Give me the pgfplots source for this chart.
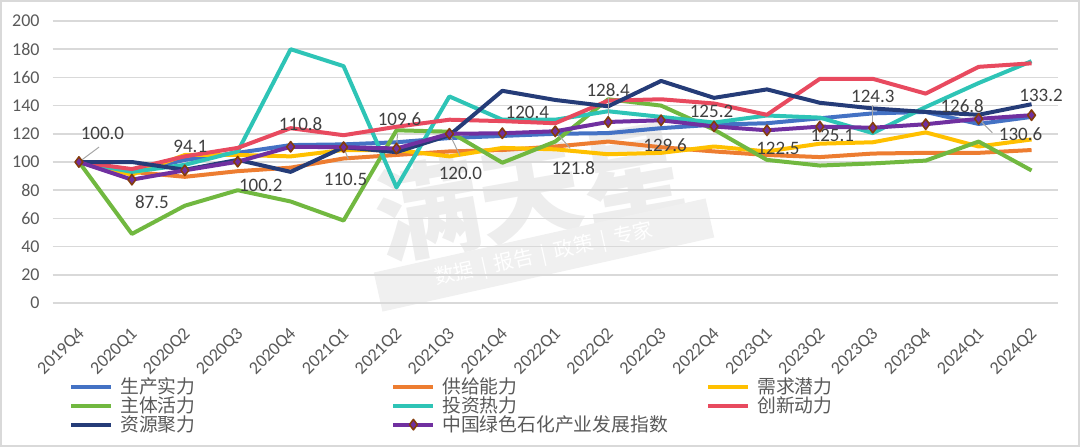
\documentclass[border=0pt]{standalone}
\usepackage{fontspec}
\setmainfont{Carlito}
\newfontfamily\cjk{Noto Sans CJK SC}
\usepackage{pgfplots}
\pgfplotsset{compat=1.18}
\usepackage{pgfplotstable}

\definecolor{cBlue}{HTML}{4472C4}
\definecolor{cOrange}{HTML}{ED7D31}
\definecolor{cYellow}{HTML}{FFC000}
\definecolor{cGreen}{HTML}{71B840}
\definecolor{cTeal}{HTML}{2EC4B6}
\definecolor{cRed}{HTML}{E84A5F}
\definecolor{cNavy}{HTML}{253C78}
\definecolor{cPurple}{HTML}{7030A0}
\definecolor{cMark}{HTML}{843C0C}
\definecolor{cGrid}{HTML}{D9D9D9}
\definecolor{cText}{HTML}{595959}
\definecolor{cLabel}{HTML}{404040}

% sc 生产实力, gy 供给能力, xq 需求潜力, zt 主体活力, tz 投资热力,
% cx 创新动力, zy 资源聚力, zs 中国绿色石化产业发展指数
% dx/dy: label offset (pt) for the index labels
\pgfplotstableread{
i  sc     gy     xq     zt     tz     cx     zy     zs     dx     dy
0  100    100    100    100    100    100    100    100.0  11.75  14.25
1  93     93     91     49     93     95     100    87.5   10     -11
2  101.5  89.5   105    69     98     104    94.5   94.1   2.75   12
3  106.5  93.5   105    80     107.5  110    101.5  100.2  11.5   -12
4  112    96     104    72     180    124    93     110.8  5      11.5
5  112.5  102.5  108.5  58.5   168    119    110.5  110.5  1      -16
6  114    105    108.5  122.5  82     125    107    109.6  1.5    14.8
7  117    107.5  104    121.5  146.5  130    119    120.0  5.5    -20
8  118.5  108.5  110    99.5   130    129    150.5  120.4  12.5   10.5
9  120    111    109    114.5  130    127.5  144    121.8  9      -18.5
10 120.5  114.5  105.5  144.5  136    143.5  139.5  128.4  0      16
11 124    110.5  106.5  140    132    144.5  157.5  129.6  2      -12.5
12 126.5  107.5  111    123    128    141.5  145.5  125.2  -1.25  7.5
13 127.5  105    107.5  101.5  133    133.5  151.5  122.5  5.5    -9
14 131    103.5  113    97.5   131.5  159    142    125.1  6.25   -4.5
15 134.5  106    114    99     120.5  159    138    124.3  0      15.5
16 135.5  106.5  121    101    139    148.5  135.5  126.8  18.25  9
17 127    106.5  111    114.5  156    167.5  133.5  130.6  21     -7.5
18 132    108.5  116    94     171.5  170    141    133.2  4.75   10
}\data

% leader lines from points to moved labels
\pgfplotstableread{
x   y      u     v
0   100    0.38  10.6
5   110.5  0.09  -8.5
6   109.6  0.02  10.6
7   120.0  0.2   -15.5
9   121.8  0.28  -12
10  128.4  0     17
15  124.3  0     16
16  126.8  0.7   4.2
17  130.6  0.26  -9.9
}\leaders

\newcommand\lgd[2][135.5pt]{\makebox[#1][l]{\rule[-2.5pt]{0pt}{10pt}#2}}

\begin{document}
\begin{tikzpicture}
\useasboundingbox (0,0) rectangle (540pt,223.5pt);
\draw[black!15, line width=0.75pt] (0.4pt,0.4pt) rectangle (539.6pt,223.1pt);

% watermark
\node[rotate=10, text=black!7, font=\cjk\bfseries\fontsize{52}{52}\selectfont] at (265pt,128pt) {满天星};
\node[rotate=12.6, fill=black!6, text=white, minimum width=170pt, minimum height=20pt,
      font=\cjk\fontsize{10}{10}\selectfont] at (272pt,96pt) {数据\ \,|\ \,报告\ \,|\ \,政策\ \,|\ \,专家};

\begin{axis}[
  at={(26.25pt,72pt)}, anchor=south west,
  scale only axis, width=502.75pt, height=141pt,
  xmin=-0.5, xmax=18.5, ymin=0, ymax=200,
  xtick={0,...,18},
  xticklabels={2019Q4,2020Q1,2020Q2,2020Q3,2020Q4,2021Q1,2021Q2,2021Q3,2021Q4,2022Q1,2022Q2,2022Q3,2022Q4,2023Q1,2023Q2,2023Q3,2023Q4,2024Q1,2024Q2},
  ytick={0,20,...,200},
  axis line style={draw=none},
  tick style={draw=none},
  major tick length=0pt,
  ymajorgrids, grid style={cGrid, line width=0.75pt},
  tick label style={font=\fontsize{9}{10}\selectfont, text=cText},
  /pgf/number format/assume math mode=true,
  yticklabel style={inner sep=0pt, xshift=-6.25pt},
  xticklabel style={inner sep=0pt, xshift=1.5pt, yshift=-14pt, rotate=45, anchor=east},
  clip=false,
  line join=round,
  every axis plot/.append style={line width=2pt},
  legend columns=3,
  legend style={at={(0.0164,-0.2624)}, anchor=north west, draw=none, fill=none,
    inner sep=0pt, row sep=0pt, column sep=0pt,
    nodes={inner sep=0pt, text=cText, font=\cjk\fontsize{9.4}{10}\selectfont},
    /tikz/every odd column/.append style={column sep=3.5pt}},
  legend image code/.code={\draw[mark repeat=2,mark phase=2,#1] plot coordinates {(0pt,0pt) (10pt,0pt) (20pt,0pt)};},
]
\addplot[cBlue, no marks] table[x=i, y=sc] {\data};
\addlegendentry{\lgd{生产实力}}
\addplot[cOrange, no marks] table[x=i, y=gy] {\data};
\addlegendentry{\lgd[132pt]{供给能力}}
\addplot[cYellow, no marks] table[x=i, y=xq] {\data};
\addlegendentry{\lgd{需求潜力}}
\addplot[cGreen, no marks] table[x=i, y=zt] {\data};
\addlegendentry{\lgd{主体活力}}
\addplot[cTeal, no marks] table[x=i, y=tz] {\data};
\addlegendentry{\lgd[132pt]{投资热力}}
\addplot[cRed, no marks] table[x=i, y=cx] {\data};
\addlegendentry{\lgd{创新动力}}
\addplot[cNavy, no marks] table[x=i, y=zy] {\data};
\addlegendentry{\lgd{资源聚力}}

\addplot[forget plot, quiver={u=\thisrow{u}, v=\thisrow{v}}, black!35, line width=0.5pt, no marks]
  table[x=x, y=y] {\leaders};

\addplot[cPurple, mark=diamond*, mark size=2.6pt,
  mark options={fill=cPurple, draw=cMark, line width=0.8pt},
  point meta=explicit,
  visualization depends on={\thisrow{dx} \as \dx},
  visualization depends on={\thisrow{dy} \as \dy},
  nodes near coords={\pgfmathprintnumber[fixed,fixed zerofill,precision=1]{\pgfplotspointmeta}},
  every node near coord/.append style={anchor=center, xshift=\dx pt, yshift=\dy pt,
    text=cLabel, font=\fontsize{9.5}{10}\selectfont, inner sep=0pt}]
  table[x=i, y=zs, meta=zs] {\data};
\addlegendentry{\lgd[132pt]{中国绿色石化产业发展指数}}
\end{axis}
\end{tikzpicture}
\end{document}
